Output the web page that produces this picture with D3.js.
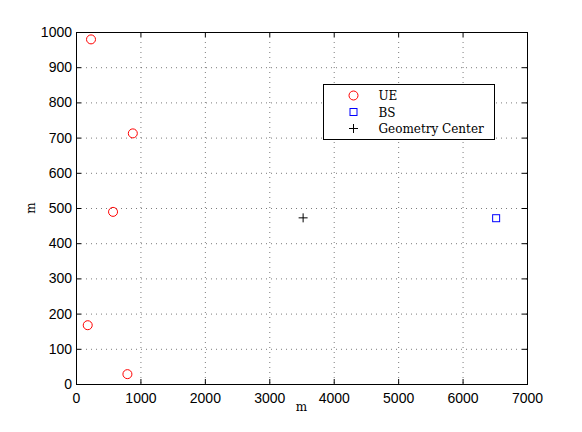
<!DOCTYPE html>
<html>
<head>
<meta charset="utf-8">
<script src="https://cdn.jsdelivr.net/npm/d3@7"></script>
<style>
	body { margin: 0; background: #fff; }
	svg { display: block; }
</style>
</head>
<body>
<svg id="chart" width="582" height="432"></svg>
<script>
// data
var ueX = [233, 882, 575, 182, 798];
var ueY = [979, 712, 489, 167, 28];
var bsX = [6521];
var bsY = [471];
var centerX = [3525];
var centerY = [472];
var xTicks = [0, 1000, 2000, 3000, 4000, 5000, 6000, 7000];
var yTicks = [0, 100, 200, 300, 400, 500, 600, 700, 800, 900, 1000];
var legendNames = ["UE", "BS", "Geometry Center"];

var svg = d3.select("#chart"),
	margin = { top: 32, right: 55, bottom: 48, left: 76 },
	width = +svg.attr("width") - margin.left - margin.right,
	height = +svg.attr("height") - margin.top - margin.bottom;

var x = d3.scaleLinear().domain([0, 7000]).range([0, width]);
var y = d3.scaleLinear().domain([0, 1000]).range([height, 0]);

var g = svg.append("g").attr("transform", "translate(" + margin.left + "," + margin.top + ")");

// grid
var grid = g.append("g").attr("stroke", "#444").attr("stroke-width", 0.7)
	.attr("stroke-dasharray", "1,4");
grid.selectAll("line.vx").data(xTicks.slice(1, -1))
	.enter().append("line")
		.attr("x1", function(d) { return x(d) + 0.5; })
		.attr("x2", function(d) { return x(d) + 0.5; })
		.attr("y1", 0).attr("y2", height);
grid.selectAll("line.hy").data(yTicks.slice(1, -1))
	.enter().append("line")
		.attr("x1", 0).attr("x2", width)
		.attr("y1", function(d) { return y(d) + 0.5; })
		.attr("y2", function(d) { return y(d) + 0.5; });

// axes, ticks inward like matlab
var fontSans = "'Liberation Sans', Arial, sans-serif";
function styleAxis(sel) {
	sel.select(".domain").remove();
	sel.selectAll("line").attr("stroke", "#000");
	sel.selectAll("text").attr("fill", "#000").attr("font-size", "14px").attr("font-family", fontSans);
}

g.append("g").attr("transform", "translate(0," + height + ")")
	.call(d3.axisBottom(x).tickValues(xTicks).tickSize(-5).tickPadding(9).tickFormat(d3.format("d")))
	.call(styleAxis);
g.append("g")
	.call(d3.axisTop(x).tickValues(xTicks).tickSize(-5).tickFormat(""))
	.call(styleAxis);
g.append("g")
	.call(d3.axisLeft(y).tickValues(yTicks).tickSize(-5).tickPadding(4).tickFormat(d3.format("d")))
	.call(styleAxis);
g.append("g").attr("transform", "translate(" + width + ",0)")
	.call(d3.axisRight(y).tickValues(yTicks).tickSize(-5).tickFormat(""))
	.call(styleAxis);

g.append("rect")
	.attr("x", 0.5).attr("y", 0.5)
	.attr("width", width).attr("height", height)
	.attr("fill", "none").attr("stroke", "#000").attr("stroke-width", 1);

// axis labels
svg.append("text")
	.attr("x", margin.left + width / 2)
	.attr("y", 411)
	.attr("text-anchor", "middle")
	.attr("font-family", "'DejaVu Serif', 'Liberation Serif', serif")
	.attr("font-size", "12px")
	.text("m");
svg.append("text")
	.attr("transform", "translate(35," + (margin.top + height / 2) + ") rotate(-90)")
	.attr("text-anchor", "middle")
	.attr("font-family", "'DejaVu Serif', 'Liberation Serif', serif")
	.attr("font-size", "12px")
	.text("m");

// markers
function drawCircle(sel, cx, cy) {
	sel.append("circle").attr("cx", cx).attr("cy", cy).attr("r", 4.5)
		.attr("fill", "none").attr("stroke", "#ff0000").attr("stroke-width", 1);
}
function drawSquare(sel, cx, cy) {
	sel.append("rect").attr("x", cx - 3.5).attr("y", cy - 3.5).attr("width", 7).attr("height", 7)
		.attr("fill", "none").attr("stroke", "#0000ff").attr("stroke-width", 1);
}
function drawPlus(sel, cx, cy) {
	sel.append("path").attr("d", "M" + (cx - 4.5) + "," + cy + "H" + (cx + 4.5) + "M" + cx + "," + (cy - 4.5) + "V" + (cy + 4.5))
		.attr("stroke", "#000").attr("stroke-width", 1).attr("fill", "none");
}

var pts = g.append("g");
for (var i = 0; i < ueX.length; i++) {
	drawCircle(pts, x(ueX[i]), y(ueY[i]));
}
for (var i = 0; i < bsX.length; i++) {
	drawSquare(pts, x(bsX[i]), y(bsY[i]));
}
for (var i = 0; i < centerX.length; i++) {
	drawPlus(pts, x(centerX[i]), y(centerY[i]));
}

// legend
var leg = svg.append("g").attr("transform", "translate(323.5,84.5)");
leg.append("rect").attr("width", 171).attr("height", 55)
	.attr("fill", "#fff").attr("stroke", "#000").attr("stroke-width", 1);
var markers = [drawCircle, drawSquare, drawPlus];
for (var i = 0; i < legendNames.length; i++) {
	var ry = 11 + i * 16.5;
	markers[i](leg, 30, ry);
	leg.append("text")
		.attr("x", 55).attr("y", ry + 4.5)
		.attr("font-family", "'DejaVu Serif', 'Liberation Serif', serif")
		.attr("font-size", "12px")
		.text(legendNames[i]);
}
</script>
</body>
</html>
